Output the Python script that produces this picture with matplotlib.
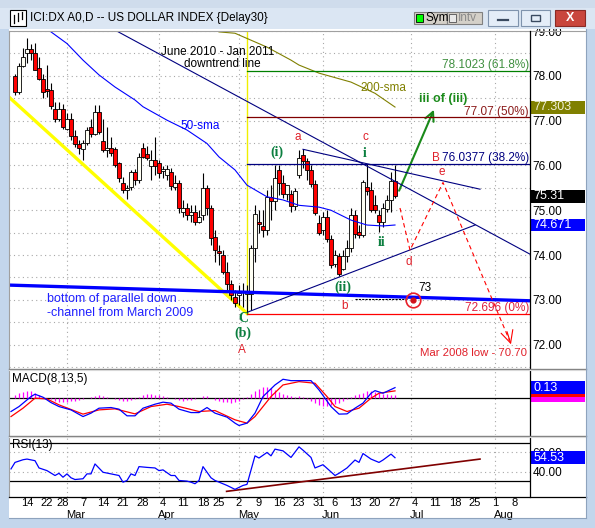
import pandas as pd
import matplotlib
matplotlib.use('Agg')
import matplotlib.pyplot as plt
from matplotlib.patches import Rectangle
from matplotlib.lines import Line2D
from matplotlib.transforms import blended_transform_factory as blend

plt.rcParams['font.family'] = ['Liberation Sans', 'DejaVu Sans']

# ---- data ----
start_day = '2011-02-09'
end_day = '2011-08-31'
holidays = ['2011-02-21', '2011-04-22', '2011-05-30']

opens = [77.99, 77.63, 78.22, 78.50, 78.59, 78.50, 78.17, 77.92, 77.70, 77.68,
         77.27, 77.03, 77.25, 76.82, 77.03, 76.65, 76.48, 76.36, 76.50, 76.85,
         76.71, 77.20, 76.55, 76.34, 76.38, 76.36, 76.05, 75.60, 75.46, 75.52,
         75.86, 75.67, 76.38, 76.25, 75.98, 76.13, 76.05, 75.88, 75.78, 75.86,
         75.52, 75.60, 74.97, 75.06, 74.89, 74.97, 74.74, 74.89, 75.49, 75.06,
         74.41, 74.09, 74.01, 73.63, 73.35, 73.07, 73.11, 73.17, 73.14, 73.14,
         74.15, 74.74, 74.65, 74.57, 75.29, 75.21, 75.90, 75.61, 75.36, 75.36,
         75.09, 75.78, 76.23, 76.10, 75.90, 75.58, 74.72, 74.56, 74.84, 74.35,
         73.80, 73.98, 73.70, 73.98, 74.15, 74.89, 74.52, 74.45, 75.52, 75.45,
         75.11, 74.89, 74.74, 75.02, 75.23, 75.66]
highs = [78.05, 78.28, 78.61, 78.84, 78.71, 78.74, 78.42, 78.05, 78.24, 77.83,
         77.42, 77.42, 77.37, 77.16, 77.16, 76.79, 76.57, 76.57, 76.86, 77.03,
         77.35, 77.35, 77.03, 76.86, 76.64, 76.42, 76.08, 75.75, 75.56, 75.90,
         75.93, 76.27, 76.49, 76.43, 76.34, 76.63, 76.12, 75.98, 76.01, 75.94,
         75.78, 75.67, 75.23, 75.16, 75.11, 75.11, 75.00, 75.83, 75.56, 75.11,
         74.56, 74.22, 74.11, 73.84, 73.44, 73.22, 73.33, 73.37, 73.33, 74.22,
         75.11, 75.00, 75.00, 75.45, 75.56, 76.01, 76.01, 75.78, 75.56, 75.45,
         75.49, 76.34, 76.36, 76.16, 76.01, 75.67, 74.89, 74.96, 75.00, 74.44,
         74.11, 74.04, 74.11, 74.33, 75.05, 75.00, 74.67, 75.67, 76.04, 75.63,
         75.34, 75.00, 75.16, 75.34, 75.85, 76.01]
lows = [77.57, 77.59, 78.19, 78.28, 78.35, 78.13, 77.90, 77.50, 77.53, 77.27,
        76.97, 76.99, 76.82, 76.79, 76.57, 76.42, 76.25, 76.13, 76.45, 76.64,
        76.68, 76.71, 76.30, 76.19, 76.21, 75.97, 75.63, 75.38, 75.26, 75.45,
        75.56, 75.60, 76.16, 76.12, 75.67, 75.78, 75.72, 75.72, 75.67, 75.45,
        75.45, 74.93, 74.85, 74.78, 74.73, 74.67, 74.71, 74.78, 74.89, 74.22,
        73.84, 73.77, 73.57, 73.22, 73.00, 72.84, 72.88, 72.84, 72.70, 72.77,
        73.84, 74.49, 74.40, 74.44, 74.78, 75.00, 75.34, 75.27, 75.23, 74.96,
        75.00, 75.72, 75.94, 75.67, 75.52, 74.89, 74.44, 74.44, 74.29, 73.71,
        73.73, 73.53, 73.66, 73.84, 74.06, 74.38, 74.38, 74.40, 75.34, 74.96,
        74.94, 74.51, 74.62, 74.96, 74.96, 75.27]
closes = [77.63, 78.22, 78.42, 78.59, 78.51, 78.14, 77.92, 77.64, 77.67, 77.32,
          77.03, 77.25, 76.85, 77.03, 76.65, 76.48, 76.38, 76.50, 76.79, 76.71,
          77.20, 76.75, 76.34, 76.40, 76.27, 76.02, 75.71, 75.45, 75.49, 75.86,
          75.67, 76.19, 76.19, 76.17, 76.13, 75.98, 75.84, 75.91, 75.93, 75.54,
          75.60, 75.06, 75.06, 74.89, 74.97, 74.74, 74.85, 75.49, 75.06, 74.37,
          74.11, 74.04, 73.63, 73.35, 73.11, 72.93, 73.15, 73.19, 73.18, 74.15,
          74.91, 74.69, 74.57, 75.29, 75.21, 75.71, 75.61, 75.36, 75.56, 75.09,
          75.43, 76.16, 76.10, 75.90, 75.58, 74.94, 74.50, 74.84, 74.35, 73.77,
          74.00, 73.57, 73.98, 74.15, 74.89, 74.48, 74.45, 75.63, 75.43, 75.00,
          75.00, 74.74, 75.04, 75.23, 75.66, 75.31]

sma50_days = [9, 13, 17, 21, 25, 30, 32, 38, 43, 48, 51, 55, 58, 63, 67, 71, 76, 79, 84, 88, 92, 95]
sma50_vals = [78.98, 78.72, 78.35, 78.02, 77.75, 77.46, 77.31, 77.01, 76.79, 76.49, 76.19,
              75.90, 75.56, 75.30, 75.23, 75.11, 75.07, 75.00, 74.78, 74.67, 74.65, 74.671]
sma200_days = [51, 55, 63, 69, 71, 76, 84, 90, 95]
sma200_vals = [78.98, 78.95, 78.64, 78.35, 78.24, 78.06, 77.86, 77.61, 77.303]

macd_days = [-1, 1, 4, 5, 7, 9, 11, 14, 17, 19, 21, 24, 26, 28, 30, 32, 35, 37, 39, 41, 44,
             46, 48, 50, 53, 55, 56, 58, 60, 62, 65, 67, 69, 71, 74, 76, 79, 81, 83, 85,
             87, 89, 90, 92, 95]
macd_vals = [-0.164, -0.103, 0.020, 0.049, 0.012, -0.054, -0.103, -0.144, -0.226, -0.184,
             -0.123, -0.115, -0.135, -0.217, -0.217, -0.123, -0.074, -0.049, -0.061, -0.135,
             -0.177, -0.177, -0.115, -0.184, -0.233, -0.307, -0.336, -0.307, -0.184, 0.020,
             0.163, 0.233, 0.216, 0.216, 0.216, 0.102, -0.103, -0.196, -0.193, -0.123,
             -0.061, 0.061, 0.093, 0.061, 0.13]
signal_days = [-1, 2, 5, 8, 11, 17, 21, 25, 30, 34, 38, 41, 46, 50, 55, 58, 60, 64, 67, 71,
               75, 78, 80, 83, 86, 89, 91, 95]
signal_vals = [-0.226, -0.123, 0.0, -0.009, -0.082, -0.196, -0.144, -0.131, -0.193, -0.103,
               -0.074, -0.103, -0.164, -0.152, -0.266, -0.307, -0.226, 0.020, 0.163, 0.204,
               0.184, 0.020, -0.103, -0.164, -0.123, 0.0, 0.061, 0.090]
hist_vals = [0.037, 0.061, 0.074, 0.086, 0.086, 0.061, 0.037, 0.012, 0.0, -0.012,
             -0.037, -0.049, -0.049, -0.049, -0.037, -0.037, -0.025, -0.012, 0.0, 0.012,
             0.025, 0.037, 0.025, 0.012, 0.0, -0.012, -0.025, -0.037, -0.037, -0.025,
             -0.012, 0.012, 0.037, 0.049, 0.049, 0.037, 0.037, 0.025, 0.012, 0.0,
             -0.012, -0.025, -0.037, -0.025, -0.025, -0.012, 0.0, 0.025, 0.025, 0.0,
             -0.025, -0.037, -0.049, -0.049, -0.061, -0.049, -0.037, -0.012, 0.012, 0.049,
             0.086, 0.110, 0.135, 0.135, 0.123, 0.098, 0.074, 0.049, 0.037, 0.025,
             0.012, 0.025, 0.012, -0.012, -0.037, -0.061, -0.086, -0.098, -0.098, -0.086,
             -0.074, -0.061, -0.037, -0.012, 0.012, 0.037, 0.049, 0.061, 0.086, 0.086,
             0.074, 0.061, 0.049, 0.049, 0.037, 0.037]

rsi_days = [-1, 0, 2, 3, 5, 6, 8, 10, 11, 12, 13, 14, 15, 17, 18, 19, 20, 22, 24, 26, 27, 28,
            29, 30, 31, 33, 35, 36, 37, 39, 40, 41, 43, 44, 45, 46, 47, 49, 50, 53, 55, 57,
            58, 60, 61, 63, 64, 65, 67, 69, 71, 72, 74, 75, 77, 80, 81, 83, 85, 86, 87, 89,
            91, 92, 94, 95]
rsi_vals = [42.8, 49.6, 52.4, 53.1, 51.4, 43.8, 41.0, 35.9, 38.2, 34.1, 37.6, 33.5, 31.7,
            32.5, 37.6, 37.6, 48.0, 39.3, 37.6, 35.9, 28.9, 30.7, 37.6, 35.9, 45.2, 44.4,
            43.8, 41.0, 41.8, 35.9, 35.9, 30.7, 30.0, 28.9, 27.3, 30.7, 45.2, 33.5, 30.7,
            25.5, 21.4, 25.5, 26.6, 56.5, 54.2, 60.0, 56.5, 63.5, 61.7, 54.8, 65.9, 62.4,
            54.8, 43.8, 47.2, 35.9, 38.2, 43.8, 52.1, 49.6, 58.9, 53.1, 49.6, 52.1, 58.3,
            54.53]
rsi_trend = ([52.9, 116.25], [19.3, 53.1])

fib_levels = [78.1023, 77.07, 76.0377, 72.696]
fib_texts = ['78.1023 (61.8%)', '77.07 (50%)', '76.0377 (38.2%)', '72.696 (0%)']
low_day = 58

W, H = 595, 528
fig = plt.figure(figsize=(W / 100, H / 100), dpi=100)
fig.patch.set_facecolor('#c3d6ec')


def fx(x):
    return x / W


def fy(y):
    return 1 - y / H


def prect(x0, y0, x1, y1, z=0, **kw):
    fig.add_artist(Rectangle((fx(x0), fy(y1)), (x1 - x0) / W, (y1 - y0) / H,
                             transform=fig.transFigure, zorder=z, **kw))


def pline(xs, ys, z=6, **kw):
    fig.add_artist(Line2D([fx(v) for v in xs], [fy(v) for v in ys],
                          transform=fig.transFigure, zorder=z, **kw))


# window body
prect(9, 29, 586, 518, z=-5, facecolor='white', edgecolor='none')

ax = fig.add_axes([fx(9), fy(368), fx(530) - fx(9), fy(31) - fy(368)])
ax_m = fig.add_axes([fx(9), fy(435), fx(530) - fx(9), fy(370) - fy(435)])
ax_r = fig.add_axes([fx(9), fy(497), fx(530) - fx(9), fy(437) - fy(497)])

days = pd.bdate_range(start_day, end_day)
days = days[~days.isin(pd.to_datetime(holidays))]
xmax = 128.75
week_ticks = [i for i in range(1, len(days)) if days[i].week != days[i - 1].week and i <= xmax]
month_ticks = [i for i in range(1, len(days)) if days[i].month != days[i - 1].month and i <= xmax]

grid_kw = dict(color='#a8a8a8', lw=0.8, ls=(0, (1, 3)), zorder=0)
for a in (ax, ax_m, ax_r):
    a.set_xlim(-1.5, xmax)
    for s in a.spines.values():
        s.set_visible(False)
    a.set_xticks([])
    a.tick_params(axis='y', length=0, labelsize=8.5, pad=2)
    a.yaxis.tick_right()
    for m in month_ticks:
        a.axvline(m, **grid_kw)

# ---- price panel ----
ax.set_ylim(71.48, 79.0)
ax.set_yticks([72, 73, 74, 75, 76, 77, 78, 79])
ax.set_yticklabels(['72.00', '73.00', '74.00', '75.00', '76.00', '77.00', '78.00', '79.00'])
for lvl in [71.5 + 0.5 * k for k in range(16)]:
    ax.axhline(lvl, **grid_kw)

for i in range(len(opens)):
    o, h, l, c = opens[i], highs[i], lows[i], closes[i]
    ax.vlines(i, l, h, color='black', lw=0.8, zorder=2)
    ax.add_patch(Rectangle((i - 0.4, min(o, c)), 0.8, max(abs(c - o), 0.012),
                           facecolor='#ff0000' if c < o else '#fffff4',
                           edgecolor='black', lw=0.6, zorder=3))

ax.plot(sma50_days, sma50_vals, color='#0000ff', lw=0.8, zorder=4)
ax.plot(sma200_days, sma200_vals, color='#808000', lw=0.8, zorder=4)

# channel and trend lines
ax.plot([-1.5, low_day], [77.525, 72.70], color='#ffff00', lw=2.4, zorder=1)
ax.plot([-1.5, xmax], [73.33, 72.98], color='#0000ff', lw=2.4, zorder=4, solid_capstyle='butt')
ax.plot([25, xmax], [79.02, 74.02], color='#000080', lw=0.8, zorder=4)
ax.plot([72, 116.25], [76.36, 75.47], color='#000080', lw=0.8, zorder=4)
ax.plot([58.25, 115], [72.73, 74.67], color='#000080', lw=0.8, zorder=4)
ax.plot([low_day, low_day], [72.696, 79.0], color='#f0f000', lw=1.0, zorder=1)

fib_colors = ['#008000', '#800000', '#000080', '#ff0000']
fib_tcolors = ['#3f8f3f', '#8b1a1a', '#000080', '#e0203f']
for lvl, txt, c, tc in zip(fib_levels, fib_texts, fib_colors, fib_tcolors):
    ax.plot([low_day, xmax], [lvl, lvl], color=c, lw=0.9, zorder=4)
    ax.text(0.998, lvl + 0.13, txt, color=tc, fontsize=8.5, ha='right', va='center',
            transform=blend(ax.transAxes, ax.transData), zorder=6)

# projections
red_dash = dict(color='#ff0000', lw=0.8, ls=(0, (4, 3)), zorder=5)
ax.plot([96.25, 98.75, 107, 123.6], [75.05, 74.11, 75.62, 72.10], **red_dash)
ax.annotate('', xy=(124.2, 71.95), xytext=(122.8, 72.35),
            arrowprops=dict(arrowstyle='->', color='#ff0000', lw=0.8, mutation_scale=22))
ax.annotate('', xy=(105, 77.30), xytext=(95.75, 75.38),
            arrowprops=dict(arrowstyle='->', color='#1a8a1a', lw=1.5, mutation_scale=16))
ax.plot([85, 98], [73.02, 73.02], color='black', lw=0.8, ls=(0, (2, 1)), zorder=5)
ax.plot([99.5], [72.99], marker='o', ms=10.5, mfc='none', mec='#e8202a', mew=1.2, zorder=6)
ax.plot([99.5], [72.99], marker='o', ms=3.5, mfc='#d0101a', mec='#d0101a', zorder=6)

green = '#0b7f3f'
serif_b = dict(family=['Liberation Serif', 'DejaVu Serif'], weight='bold')
labels = [
    (65.5, 76.30, '(i)', green, 10, serif_b),
    (87.5, 76.27, 'i', green, 10, serif_b),
    (91.75, 74.29, 'ii', green, 10, serif_b),
    (82, 73.28, '(ii)', green, 10, serif_b),
    (57, 72.59, 'C', green, 10, serif_b),
    (57, 72.26, '(b)', green, 10, serif_b),
    (70.75, 76.63, 'a', '#e0202a', 8.5, {}),
    (87.5, 76.63, 'c', '#e0202a', 8.5, {}),
    (82.5, 72.86, 'b', '#e0202a', 8.5, {}),
    (98.5, 73.84, 'd', '#e0202a', 8.5, {}),
    (106.75, 75.85, 'e', '#e0202a', 8.5, {}),
    (105.2, 76.16, 'B', '#e0202a', 8.5, {}),
    (56.75, 71.88, 'A', '#e0202a', 8.5, {}),
    (102.5, 73.26, '73', 'black', 8.5, {}),
    (107, 77.48, 'iii of (iii)', '#1a8a1a', 9, dict(weight='bold')),
    (92, 77.73, '200-sma', '#808000', 8.5, {}),
    (46.25, 76.88, '50-sma', '#0000ff', 8.5, {}),
    (50.75, 78.53, 'June 2010 - Jan 2011', 'black', 8.5, {}),
    (51.75, 78.26, 'downtrend line', 'black', 8.5, {}),
    (114.5, 71.81, 'Mar 2008 low - 70.70', '#e0202a', 8.2, {}),
]
for x, y, s, c, fs, extra in labels:
    ax.text(x, y, s, color=c, fontsize=fs, ha='center', va='center', zorder=7, **extra)
ax.text(8, 73.02, 'bottom of parallel down', color='#2020ff', fontsize=9, va='center', zorder=7)
ax.text(8, 72.70, '-channel from March 2009', color='#2020ff', fontsize=9, va='center', zorder=7)


def value_box(a, y, h, txt, bg, fg='white', z=8):
    tr = blend(a.transAxes, a.transData)
    wbox = 55 / 521
    a.add_patch(Rectangle((1.0, y - h / 2), wbox, h, transform=tr, facecolor=bg,
                          edgecolor='none', clip_on=False, zorder=z))
    if txt:
        a.text(1.006, y, txt, color=fg, fontsize=9, va='center', ha='left', transform=tr,
               clip_on=False, zorder=z + 0.5)


value_box(ax, sma200_vals[-1], 0.29, '77.303', '#808000', '#f0f0d8')
value_box(ax, closes[-1], 0.29, '75.31', 'black')
value_box(ax, sma50_vals[-1], 0.29, '74.671', '#0000ff')

# ---- MACD panel ----
ax_m.set_ylim(-0.453, 0.347)
ax_m.set_yticks([])
ax_m.axhline(0, color='black', lw=0.9, zorder=1)
ax_m.vlines(range(len(hist_vals)), 0, hist_vals, color='#ff00ff', lw=0.9, zorder=2)
ax_m.plot(signal_days, signal_vals, color='#ff0000', lw=0.9, zorder=3)
ax_m.plot(macd_days, macd_vals, color='#0000ff', lw=0.9, zorder=4)
ax_m.text(0.005, 0.86, 'MACD(8,13,5)', transform=ax_m.transAxes, fontsize=8.5, va='center')
# histogram and signal value boxes sit under the MACD box, only their edges show
value_box(ax_m, hist_vals[-1], 0.16, '', '#ff00ff', z=8)
value_box(ax_m, signal_vals[-1], 0.16, '', '#ff0000', z=9)
value_box(ax_m, macd_vals[-1], 0.16, '0.13', '#0000ff', z=10)

# ---- RSI panel ----
ax_r.set_ylim(13.4, 76.2)
ax_r.set_yticks([40, 60])
ax_r.set_yticklabels(['40.00', '60.00'])
for lvl in (40, 60):
    ax_r.axhline(lvl, **grid_kw)
for lvl in (30, 70):
    ax_r.axhline(lvl, color='black', lw=0.9, zorder=1)
ax_r.plot(rsi_trend[0], rsi_trend[1], color='#800000', lw=1.2, zorder=3)
ax_r.plot(rsi_days, rsi_vals, color='#0000ff', lw=0.9, zorder=4)
ax_r.text(0.005, 0.86, 'RSI(13)', transform=ax_r.transAxes, fontsize=8.5, va='center')
value_box(ax_r, rsi_vals[-1], 13.4, '54.53', '#0000ff')

tr = blend(ax_r.transData, ax_r.transAxes)
for i in week_ticks:
    ax_r.text(i, -0.105, str(days[i].day), transform=tr, fontsize=8, ha='center',
              va='center', clip_on=False)
for i in month_ticks[1:] if days[month_ticks[0]].month == 2 else month_ticks:
    ax_r.text(i - 0.3, -0.295, days[i].strftime('%b'), transform=tr, fontsize=8,
              ha='left', va='center', clip_on=False)

# ---- frame lines ----
pline([9, 586], [31, 31], color='#a0a0a0', lw=0.8)
pline([9, 9], [31, 497], color='#a0a0a0', lw=0.8)
pline([530, 530], [31, 497], color='black', lw=0.9)
for yy in (369, 436):
    pline([9, 586], [yy, yy], color='#808080', lw=1.0)
    pline([9, 586], [yy + 1.2, yy + 1.2], color='#d8d8d8', lw=0.8)
pline([9, 586], [497, 497], color='black', lw=0.9)
pline([586, 586], [29, 518], color='#8ea3bd', lw=0.8)
pline([9, 586], [518, 518], color='#8ea3bd', lw=0.8)

# ---- title bar ----
prect(0, 0, W, 29, z=5, facecolor='#dbe6f3', edgecolor='none')
prect(0, 0, W, 8, z=5, facecolor='#cfdcec', edgecolor='none')
prect(10, 10, 26, 26, z=6, facecolor='white', edgecolor='black', lw=0.8)
for bx, b0, b1 in [(14, 15, 23), (18, 13, 21), (22, 12, 19)]:
    pline([bx, bx], [b0, b1], color='black', lw=0.9, z=7)
fig.text(fx(30), fy(18), 'ICI:DX A0,D -- US DOLLAR INDEX {Delay30}', fontsize=8.5,
         va='center', zorder=7)
prect(414, 12, 447, 24, z=6, facecolor='#d4d0c8', edgecolor='#808080', lw=0.8)
prect(416, 14, 423, 22, z=7, facecolor='#00ff00', edgecolor='black', lw=0.6)
fig.text(fx(425), fy(18), 'Sym', fontsize=8.5, va='center', zorder=7)
prect(447, 12, 482, 24, z=6, facecolor='#d4d0c8', edgecolor='#808080', lw=0.8)
prect(449, 14, 456, 22, z=7, facecolor='#e8e8e8', edgecolor='#505050', lw=0.6)
fig.text(fx(458), fy(18), 'Intv', fontsize=8.5, va='center', color='#8a8a8a', zorder=7)
for x0, x1 in [(488, 518), (521, 550)]:
    prect(x0, 10, x1, 26, z=6, facecolor='#e4edf8', edgecolor='#7f93ad', lw=0.8)
pline([498, 508], [20, 20], color='#3a4a60', lw=1.6, z=7)
prect(531, 15, 540, 21, z=7, facecolor='none', edgecolor='#3a4a60', lw=1.0)
prect(555, 10, 585, 26, z=6, facecolor='#c9463d', edgecolor='#8a2a25', lw=0.8)
fig.text(fx(570), fy(18), 'X', fontsize=9, weight='bold', color='white', ha='center',
         va='center', zorder=7)

fig.savefig('out.png', dpi=100, facecolor=fig.get_facecolor())
